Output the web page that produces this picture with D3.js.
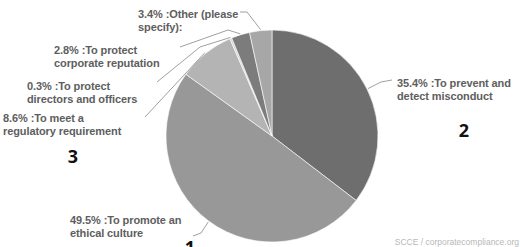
<!DOCTYPE html>
<html>
<head>
<meta charset="utf-8">
<script src="https://cdn.jsdelivr.net/npm/d3@7"></script>
<style>
  html, body { margin: 0; padding: 0; background: #fff; }
  svg { display: block; }
</style>
</head>
<body>
<svg id="chart" width="520" height="247"></svg>
<script>
// data
const categories = ["To prevent and detect misconduct", "To promote an ethical culture",
  "To meet a regulatory requirement", "To protect directors and officers",
  "To protect corporate reputation", "Other (please specify):"]
const values = [35.4, 49.5, 8.6, 0.3, 2.8, 3.4]
const rankLabels = ["1", "2", "3"]

const sliceColors = ["#6e6e6e", "#989898", "#b4b4b4", "#d4d4d4", "#7c7c7c", "#a7a7a7"]

// label layout: text position, words on first line, leader elbow points
const labelLayout = [
  {x: 397, y: 87, split: 4, path: [[381, 82], [392, 80]]},
  {x: 70, y: 224, split: 4, path: [[201, 233], [193, 236]]},
  {x: 3, y: 122, split: 4, path: [[145, 117]]},
  {x: 27, y: 90, split: 3, path: [[200, 47], [157, 82]]},
  {x: 54, y: 54, split: 3, path: [[228, 30], [180, 47]]},
  {x: 138, y: 18, split: 3, path: [[247, 12], [240, 12]]}
]
const rankPos = [[190, 254], [464, 137], [73, 163]]

const svg = d3.select("#chart")
const cx = 272, cy = 136, r = 106

const pie = d3.pie().sort(null).value(d => d)
const arcs = pie(values)
const arc = d3.arc().innerRadius(0).outerRadius(r)

const g = svg.append("g").attr("transform", "translate(" + cx + "," + cy + ")")
g.selectAll("path.slice")
  .data(arcs)
  .enter().append("path")
  .attr("class", "slice")
  .attr("d", arc)
  .attr("fill", (d, i) => sliceColors[i])
  .attr("stroke", "#fff")
  .attr("stroke-width", 0.6)

// leader lines
const line = d3.line()
arcs.forEach((d, i) => {
  const a = (d.startAngle + d.endAngle) / 2
  const start = [cx + (r + 1) * Math.sin(a), cy - (r + 1) * Math.cos(a)]
  svg.append("path")
    .attr("d", line([start].concat(labelLayout[i].path)))
    .attr("fill", "none")
    .attr("stroke", "#a0a0a0")
    .attr("stroke-width", 1)
})

// labels
arcs.forEach((d, i) => {
  const L = labelLayout[i]
  const words = (values[i].toFixed(1) + "% :" + categories[i]).split(" ")
  const lines = [words.slice(0, L.split).join(" "), words.slice(L.split).join(" ")]
  const t = svg.append("text")
    .attr("x", L.x).attr("y", L.y)
    .style("font-family", "'Liberation Sans', Arial, sans-serif")
    .style("font-size", "11px")
    .style("font-weight", "bold")
    .style("letter-spacing", "-0.1px")
    .attr("fill", "#5e5e5e")
  lines.forEach((s, j) => {
    t.append("tspan").attr("x", L.x).attr("dy", j === 0 ? 0 : 13).text(s)
  })
})

// rank numbers
svg.selectAll("text.rank")
  .data(rankLabels)
  .enter().append("text")
  .attr("class", "rank")
  .attr("x", (d, i) => rankPos[i][0])
  .attr("y", (d, i) => rankPos[i][1])
  .attr("text-anchor", "middle")
  .style("font-family", "'Open Sans', sans-serif")
  .style("font-size", "18px")
  .style("font-weight", "bold")
  .attr("fill", "#111")
  .text(d => d)

svg.append("text")
  .attr("x", 519).attr("y", 245)
  .attr("text-anchor", "end")
  .style("font-family", "'Liberation Sans', Arial, sans-serif")
  .style("font-size", "8.5px")
  .attr("fill", "#b8b8b8")
  .text("SCCE / corporatecompliance.org")
</script>
</body>
</html>
